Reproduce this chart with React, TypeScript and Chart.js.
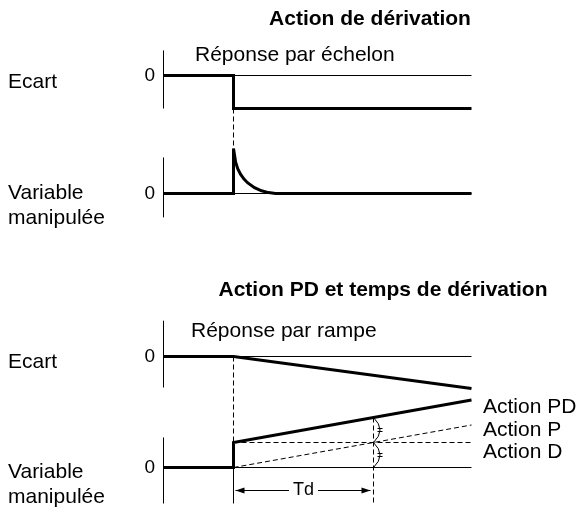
import React, { useEffect, useRef } from "react";
import { Chart, registerables } from "chart.js";

Chart.register(...registerables);

// ---------- data (time: 0 = vertical axis, 1 = input change; Td = 2 time units) ----------
const stepTime = 1;
const endTime = 4.4;
const tdTime = 2;

// Action de dérivation – réponse par échelon
const stepErrorT = [0, 1, 1, 4.4];
const stepErrorV = [0, 0, -1, -1];
const derivOutT = [0, 1, 1, 1.03, 1.06, 1.1, 1.15, 1.2, 1.3, 1.4, 1.5, 1.6, 4.4];
const derivOutV = [0, 0, 1, 0.7, 0.55, 0.43, 0.32, 0.24, 0.13, 0.06, 0.02, 0, 0];

// Action PD – réponse par rampe
const rampErrorT = [0, 1, 4.4];
const rampErrorV = [0, 0, -1];
const pdOutT = [0, 1, 1, 4.4];
const pdOutV = [0, 0, 1, 2.7];
const pOutT = [1, 4.4];
const pOutV = [0, 1.7];
const dOutT = [1, 4.4];
const dOutV = [1, 1];
const zeroRefT = [1, 4.4];
const zeroRefV = [0, 0];

// axis extents of each small panel (value units)
const panelAxisTop = [0.76, 0.8, 1.12, 1.2];
const panelAxisBottom = [-1, -0.53, -0.97, -1.44];

// texts
const titles = ["Action de dérivation", "Action PD et temps de dérivation"];
const subtitles = ["Réponse par échelon", "Réponse par rampe"];
const errorLabel = "Ecart";
const outputLabel = ["Variable", "manipulée"];
const actionLabels = ["Action PD", "Action P", "Action D"];
const zeroLabel = "0";
const tdLabel = "Td";

// ---------- layout ----------
const W = 584;
const H = 510;
const FONT = '"Liberation Sans", Arial, Helvetica, sans-serif';

const pts = (t: number[], v: number[]) => t.map((x, i) => ({ x, y: v[i] }));

const yAxis = (zeroPx: number, pxPerUnit: number) => ({
  type: "linear" as const,
  display: false,
  min: -(H - zeroPx) / pxPerUnit,
  max: zeroPx / pxPerUnit,
});

const diagramPlugin = {
  id: "diagram",
  afterDatasetsDraw(chart: any) {
    const { ctx, scales } = chart;
    const X = (t: number) => scales.x.getPixelForValue(t);
    const Y = (id: string, v: number) => scales[id].getPixelForValue(v);
    const seg = (x1: number, y1: number, x2: number, y2: number) => {
      ctx.beginPath();
      ctx.moveTo(x1, y1);
      ctx.lineTo(x2, y2);
      ctx.stroke();
    };
    ctx.save();
    ctx.strokeStyle = "#000";
    ctx.fillStyle = "#000";
    ctx.lineWidth = 1;

    // vertical axes of the four panels
    const ids = ["yE1", "yM1", "yE2", "yM2"];
    ids.forEach((id, i) => {
      const x0 = X(0);
      seg(x0, Y(id, panelAxisTop[i]), x0, Y(id, panelAxisBottom[i]));
    });

    const xs = X(stepTime);
    const xtd = X(stepTime + tdTime);

    // dashed guides
    ctx.setLineDash([5, 3]);
    seg(xs, Y("yE1", -1), xs, Y("yM1", 1));
    seg(xs, Y("yE2", 0), xs, Y("yM2", 1));
    seg(xtd, Y("yM2", 2), xtd, Y("yM2", panelAxisBottom[3]));
    ctx.setLineDash([]);
    seg(xs, Y("yM2", 0), xs, Y("yM2", panelAxisBottom[3]));

    // braces at Td
    const brace = (ya: number, yb: number) => {
      ctx.beginPath();
      ctx.moveTo(xtd, ya);
      ctx.quadraticCurveTo(xtd + 13, (ya + yb) / 2, xtd, yb);
      ctx.stroke();
      const ym = Math.round((ya + yb) / 2);
      seg(xtd + 4, ym - 1.5, xtd + 9, ym - 1.5);
      seg(xtd + 4, ym + 1.5, xtd + 9, ym + 1.5);
    };
    brace(Y("yM2", 2), Y("yM2", 1));
    brace(Y("yM2", 1), Y("yM2", 0));

    // Td arrow
    const ya = Y("yM2", -0.92);
    const xm = X(stepTime + tdTime / 2);
    ctx.font = `18px ${FONT}`;
    const tw = ctx.measureText(tdLabel).width;
    seg(xs + 2, ya, xm - tw / 2 - 4, ya);
    seg(xm + tw / 2 + 4, ya, xtd - 3, ya);
    const head = (xt: number, dir: number) => {
      ctx.beginPath();
      ctx.moveTo(xt, ya);
      ctx.lineTo(xt + dir * 9, ya - 3);
      ctx.lineTo(xt + dir * 9, ya + 3);
      ctx.closePath();
      ctx.fill();
    };
    head(xs + 2, 1);
    head(xtd - 3, -1);
    ctx.textAlign = "center";
    ctx.textBaseline = "middle";
    ctx.fillText(tdLabel, xm, ya);

    // texts
    const text = (s: string, x: number, y: number, font: string, align: CanvasTextAlign = "left") => {
      ctx.font = font;
      ctx.textAlign = align;
      ctx.textBaseline = "middle";
      ctx.fillText(s, x, y);
    };
    const bold = `bold 21px ${FONT}`;
    const reg = `21px ${FONT}`;
    text(titles[0], 370, 19, bold, "center");
    text(titles[1], 383, 290, bold, "center");
    text(subtitles[0], 195, 55, reg);
    text(subtitles[1], 191, 331, reg);
    text(errorLabel, 8, 82, reg);
    text(outputLabel[0], 8, 193, reg);
    text(outputLabel[1], 8, 218, reg);
    text(errorLabel, 8, 362, reg);
    text(outputLabel[0], 8, 472, reg);
    text(outputLabel[1], 8, 497, reg);
    text(actionLabels[0], 483, 407, reg);
    text(actionLabels[1], 483, 430, reg);
    text(actionLabels[2], 483, 452, reg);
    ids.forEach((id) => text(zeroLabel, 155, Y(id, 0), `19px ${FONT}`, "right"));

    ctx.restore();
  },
};

export default function App() {
  const ref = useRef<HTMLCanvasElement | null>(null);

  useEffect(() => {
    if (!ref.current) return;
    const thick = { borderColor: "#000", borderWidth: 3, pointRadius: 0, showLine: true, tension: 0, fill: false };
    const thin = { borderColor: "#000", borderWidth: 1, pointRadius: 0, showLine: true, tension: 0, fill: false };
    const dashed = { ...thin, borderDash: [5, 3] };
    const chart = new Chart(ref.current, {
      type: "scatter",
      data: {
        datasets: [
          { ...thick, label: "Ecart (échelon)", data: pts(stepErrorT, stepErrorV), yAxisID: "yE1" },
          { ...thick, label: "Variable manipulée (dérivation)", data: pts(derivOutT, derivOutV), yAxisID: "yM1" },
          { ...thick, label: "Ecart (rampe)", data: pts(rampErrorT, rampErrorV), yAxisID: "yE2" },
          { ...thick, label: "Action PD", data: pts(pdOutT, pdOutV), yAxisID: "yM2" },
          { ...dashed, label: "Action P", data: pts(pOutT, pOutV), yAxisID: "yM2" },
          { ...dashed, label: "Action D", data: pts(dOutT, dOutV), yAxisID: "yM2" },
          { ...thin, label: "0", data: pts(zeroRefT, zeroRefV), yAxisID: "yE1" },
          { ...thin, label: "0", data: pts(zeroRefT, zeroRefV), yAxisID: "yM1" },
          { ...thin, label: "0", data: pts(zeroRefT, zeroRefV), yAxisID: "yE2" },
          { ...thin, label: "0", data: pts(zeroRefT, zeroRefV), yAxisID: "yM2" },
        ] as any,
      },
      options: {
        animation: false,
        responsive: false,
        devicePixelRatio: 1,
        layout: { padding: 0 },
        plugins: { legend: { display: false }, title: { display: false }, tooltip: { enabled: false } },
        events: [],
        scales: {
          x: { type: "linear", display: false, min: -163.5 / 70, max: (W - 163.5) / 70 },
          yE1: yAxis(75.5, 33),
          yM1: yAxis(193.5, 45),
          yE2: yAxis(356.5, 32),
          yM2: yAxis(467.5, 25),
        } as any,
      },
      plugins: [diagramPlugin],
    });
    return () => chart.destroy();
  }, []);

  return (
    <div style={{ position: "fixed", left: 0, top: 0, width: W, height: H, background: "#fff" }}>
      <canvas ref={ref} width={W} height={H} style={{ display: "block", width: W, height: H }} />
    </div>
  );
}
